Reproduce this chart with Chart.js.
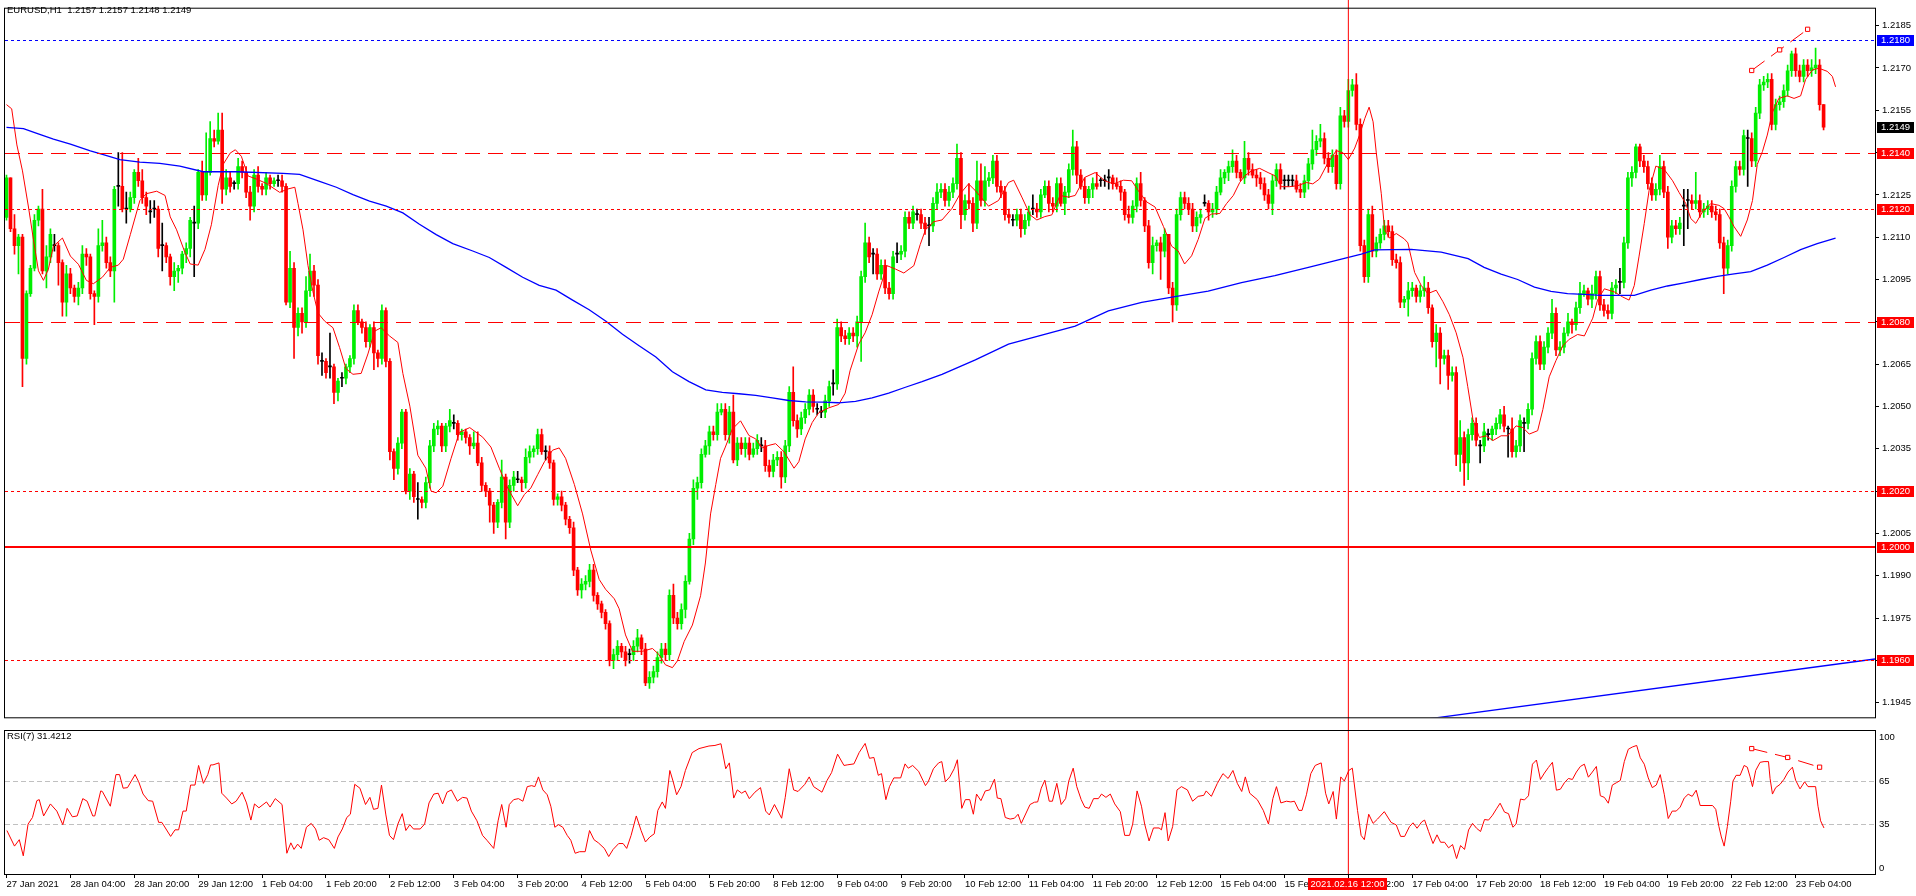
<!DOCTYPE html>
<html>
<head>
<meta charset="utf-8">
<script src="https://cdn.jsdelivr.net/npm/chart.js@4.4.0/dist/chart.umd.min.js"></script>
<style>
  html, body { margin: 0; padding: 0; background: #fff; overflow: hidden; }
  #main { position: absolute; left: 0; top: 0; }
  #rsi { position: absolute; left: 0; top: 726px; }
</style>
</head>
<body>
<canvas id="main" width="1916" height="726"></canvas>
<canvas id="rsi" width="1916" height="170"></canvas>
<script>
// EURUSD H1, 27 Jan 12:00 .. 23 Feb 11:00 (456 bars). Prices in pips above 1.2000.
const BASE = 1.2, PIP = 0.0001;
const symbolTitle = "EURUSD,H1";
const firstOpenPips = 117;

const closePips = [
  131,113,107,110,67,90,99,116,120,98,
  103,111,107,101,87,97,92,89,92,104,
  103,90,89,107,108,101,98,127,128,120,
  120,124,133,130,124,121,119,120,106,107,
  103,96,98,99,104,106,116,115,133,125,
  133,145,144,148,127,131,128,129,135,133,
  126,121,132,128,127,131,129,130,130,128,
  87,99,78,83,80,91,98,93,68,66,
  62,64,55,59,60,64,67,84,80,78,
  73,78,69,67,84,66,34,28,37,48,
  20,26,18,17,16,23,36,42,43,36,
  43,45,44,40,41,39,36,37,30,22,
  20,15,9,16,25,9,22,25,24,23,
  32,34,35,40,34,34,30,17,18,15,
  10,7,-8,-15,-13,-12,-8,-17,-20,-23,
  -27,-40,-38,-35,-37,-40,-38,-35,-32,-36,
  -48,-46,-44,-39,-36,-38,-17,-25,-27,-22,
  -12,3,21,23,33,36,41,40,48,49,
  40,48,31,37,35,37,33,35,38,36,
  29,27,31,32,25,36,55,45,42,46,
  49,54,50,49,48,52,57,58,78,75,
  74,76,75,80,96,108,103,104,97,100,
  92,90,103,104,105,117,115,119,118,115,
  113,114,122,126,127,123,126,129,138,118,
  123,122,115,130,123,130,131,137,128,126,
  118,117,116,118,113,116,119,120,119,125,
  128,122,121,129,122,126,134,142,132,128,
  124,127,129,128,130,130,131,129,128,126,
  118,117,121,129,123,114,101,107,108,105,
  111,92,86,118,124,122,120,114,117,118,
  122,119,120,126,131,133,135,137,133,131,
  138,134,132,131,129,125,122,130,134,129,
  130,130,130,127,126,130,136,141,144,145,
  138,135,139,129,153,151,162,164,150,107,
  96,118,105,108,111,114,112,102,101,87,
  88,91,92,89,91,92,85,73,76,67,
  68,61,62,33,39,30,40,44,38,36,
  41,40,42,44,47,43,42,34,36,45,
  44,49,67,73,65,71,76,83,70,71,
  76,80,79,85,90,91,88,90,96,86,
  84,83,92,93,94,108,131,133,142,137,
  135,129,125,127,135,126,110,114,113,115,
  121,123,122,123,119,120,121,119,118,108,
  99,107,128,135,134,146,145,137,154,164,
  165,166,150,157,158,162,169,175,169,167,
  171,169,170,171,157,149
];

const upWick = [
  1,0,5,1,1,1,1,2,1,7, 4,2,4,1,1,3,2,1,2,3, 2,1,1,6,8,2,2,1,12,12, 6,2,1,5,4,2,4,3,1,8,
  1,1,3,1,1,2,1,6,1,4, 14,6,3,6,6,3,2,1,3,2, 2,2,2,3,1,2,1,1,2,2, 1,6,2,2,2,5,6,2,2,3,
  1,12,1,1,2,1,1,2,2,1, 2,1,2,1,2,1,1,1,2,1, 1,2,1,6,1,2,2,2,2,1, 1,4,3,1,1,1,1,4,4,2,
  1,1,1,1,6,1,2,2,3,1, 3,2,1,2,2,2,2,1,1,2, 1,1,2,1,2,2,2,2,1,1, 1,1,2,2,1,2,2,2,3,1,
  2,2,2,2,2,2,2,4,2,2, 2,2,3,2,2,2,2,2,3,2, 2,2,6,2,2,2,2,2,2,3, 2,2,2,2,2,2,2,9,2,2,
  2,2,2,2,2,2,2,5,3,2, 2,2,2,2,2,7,2,2,2,2, 2,2,2,4,2,2,2,2,2,2, 2,3,2,3,2,2,2,2,5,2,
  2,6,2,7,6,5,2,2,2,2, 2,2,2,2,2,2,2,5,2,2, 2,2,2,2,2,2,2,6,2,2, 3,1,2,4,1,2,3,1,2,2,
  1,3,2,2,4,1,2,3,1,2, 2,0,2,2,2,2,2,2,2,2, 3,1,2,2,3,1,2,4,2,1, 6,2,2,2,2,2,2,2,2,2,
  2,2,2,2,2,2,2,7,2,5, 2,2,2,2,3,2,4,2,4,2, 2,2,3,2,2,2,2,2,2,2, 1,3,2,1,2,4,2,1,3,2,
  2,2,2,2,6,2,2,2,2,2, 3,2,1,2,2,3,1,4,2,2, 2,2,2,2,2,2,2,5,2,2, 2,3,1,2,4,2,1,3,2,2,
  2,2,2,2,5,2,2,2,1,1, 2,2,2,2,4,2,2,2,2,2, 6,4,2,10,2,2,2,2,2,2, 2,2,2,2,2,2,3,2,2,2,
  2,2,2,2,2,2,2,1,2,2, 2,2,3,6,2,0
];

const dnWick = [
  1,1,3,10,10,2,1,1,2,1, 6,2,2,8,5,5,2,2,3,2, 3,2,10,2,2,2,2,11,7,1, 5,1,2,2,2,3,4,3,3,9,
  2,3,5,4,2,3,3,19,2,2, 2,1,2,1,5,2,2,2,2,2, 2,5,2,2,2,2,2,1,2,2, 1,2,11,3,4,2,2,4,3,5,
  2,4,4,3,3,2,2,2,1,2, 2,2,6,3,2,2,3,4,2,2, 1,3,2,7,2,2,2,2,2,2, 2,2,2,2,2,2,3,1,1,2,
  2,6,4,2,2,6,2,2,1,3, 2,2,2,2,1,3,2,2,2,2, 2,2,2,2,3,2,2,2,2,2, 2,2,3,2,2,2,3,2,2,2,
  1,2,2,2,2,2,2,2,2,2, 3,1,2,4,2,1,3,2,2,1, 2,3,1,2,2,3,2,1,2,2, 2,2,2,2,4,2,2,2,3,2,
  2,2,2,2,2,2,2,4,2,2, 2,2,2,4,14,2,2,7,2,2, 2,2,2,3,2,2,2,2,2,2, 2,7,2,2,2,2,2,2,2,5,
  2,2,3,2,2,2,2,2,2,2, 2,2,2,2,3,2,2,2,2,2, 1,3,2,2,1,4,2,2,3,1, 2,2,3,1,2,2,4,2,1,3,
  2,2,2,2,2,2,2,4,2,10, 2,2,6,2,2,2,2,2,2,2, 1,3,2,2,1,2,3,2,2,1, 2,2,1,3,2,2,2,4,2,2,
  3,2,2,1,2,2,3,2,2,2, 2,2,2,2,2,2,2,2,2,2, 2,2,2,2,2,2,2,2,2,2, 2,6,2,2,2,2,2,2,9,9,
  2,5,2,4,6,8,6,2,2,6, 2,2,2,2,2,2,10,2,2,2, 10,2,2,2,2,2,2,2,2,2, 2,1,3,2,2,1,2,3,2,2,
  2,2,2,2,4,2,2,3,2,2, 2,2,2,2,2,2,4,2,2,2, 14,10,2,2,2,2,2,2,2,2, 9,2,2,2,2,2,17,2,2,2,
  2,2,2,2,2,2,2,2,2,2, 2,2,2,2,2,1
];

const dojiBars = [12,28,36,37,39,47,57,68,79,81,84,103,112,128,135,156,189,203,204,207,
  217,223,228,231,252,257,274,275,276,300,320,321,322,369,371,376,380,404,420,421,436];

// moving averages as [bar, pips]
const fastMA = [
  [0,157],[1.3,155.5],[2.6,142.7],[4,133.5],[5.5,120.7],[6.75,109.1],[8,98.1],[9.25,94.7],[10.5,98.7],[11.75,106.8],
  [14,109.7],[16,103.3],[18,100.4],[20,94.7],[21.75,93.5],[24,95.8],[26,99.3],[28,100.1],[29.25,102.2],[31,110.9],
  [33.4,123],[35,125.4],[37.6,126.3],[39.7,124.8],[41,117.2],[42.6,112.6],[44.7,104.5],[46,100.5],[48,100.1],[49.7,105.7],
  [51.3,114.4],[53,128.3],[54.25,135.8],[56,139.8],[57.3,141],[58.8,138.7],[60.5,131.7],[62.6,130.6],[65,129.1],[68.4,125.9],
  [70.5,127.1],[72.2,127.7],[73,121.9],[74.25,112.6],[75.5,99.9],[76.75,90.6],[78,83.1],[79.7,80.2],[81.75,77.9],[83.4,70.9],
  [85,63.4],[86.75,61.4],[88.8,61.7],[90.5,68.6],[92.2,76.7],[93.8,77.9],[95.9,75],[98,72.7],[99.25,61.7],[101,50.1],
  [103,32.7],[105,28.1],[106.3,20],[107.6,19.4],[109.25,21.7],[111.3,31.5],[113.4,40.8],[116,42.5],[119.25,39.1],[121.3,35.6],
  [123.4,28.1],[125.5,21.1],[128,14.8],[129.7,18.8],[131.3,21.1],[133,25.8],[134.7,30.4],[136.75,34.5],[138.4,35.3],[140,31.6],
  [142.2,22.3],[144.25,11.9],[146.3,-0.9],[148.4,-11.3],[150,-14.8],[152.2,-18.2],[153.4,-21.7],[155,-31],[156.75,-36.8],[159.25,-36.8],
  [161.75,-35.8],[163.4,-38],[165,-41.6],[166.75,-42.6],[168,-40.2],[169.7,-33.3],[171.75,-27.5],[173.8,-17.1],[175,-5.5],[176.3,11.9],
  [177.6,22.3],[178.8,31.6],[180,35.6],[181.75,42],[183.8,44.9],[185.9,39.7],[187.6,38.5],[189.25,35.3],[190.9,36.2],[192.6,36.8],
  [194.7,33.9],[197.2,28.1],[198.4,30.4],[200,38.5],[201.75,44.3],[203.4,47.8],[205.9,49.5],[208.4,50.7],[210,54.7],[211.25,62.8],
  [213.4,72.1],[215,76.1],[216.75,82.5],[218.4,90.6],[220.5,99.9],[222.6,98.7],[224.7,97.3],[227.2,99.9],[228.8,107.4],[230.1,112.6],
  [232.2,115.5],[234.25,116.1],[236.75,120.2],[238.8,125.4],[240.9,128.9],[242.6,126.5],[245.9,121],[248.4,123],[250.9,129.4],[252.2,130.2],
  [254.25,124.2],[256.3,117.9],[258,116.1],[260,117.3],[261.75,117.9],[263.8,124.8],[265.9,124.2],[267.6,124.8],[270,131.2],[272.6,132.9],
  [275,130],[277.2,128.9],[279.7,130.2],[281.75,130],[283.4,126.5],[285.5,122.5],[287.6,120.7],[289.7,113.8],[291.75,106.8],[293.4,105.1],
  [295,100.5],[296.75,103.4],[298.4,109.2],[300.1,116.7],[301.75,118.2],[303.8,118.4],[305.5,121.9],[307.2,124.8],[308.8,129.4],[310.1,131.8],
  [311.75,133.5],[313.8,134.4],[315.9,132.9],[317.6,131.8],[319.25,127.9],[321.3,127.9],[323.4,128.3],[325.5,129.4],[327.1,128.9],[328.75,130.6],
  [330.9,136.4],[333,140.7],[334.7,139.9],[336,137.5],[337.6,141.6],[338.8,146.2],[340.1,152],[341.2,156.1],[342.2,150.9],[343,139.9],
  [344.25,125.4],[345.1,112.6],[346.3,109.7],[348,111.3],[350,109.4],[350.9,108],[352.6,97.5],[354.25,92.9],[355.9,90],[358,91.2],
  [359.7,87.1],[361.3,82.5],[363,76.1],[364.7,67.4],[365.9,57],[367.2,45.4],[368.8,39],[370.5,39.6],[372.2,37.9],[374.25,39.6],
  [375.9,39.6],[378,43.1],[379.7,42.5],[381.3,40.2],[383.4,41.4],[384.7,48.9],[386.3,60.5],[388,66.3],[389.7,71.5],[391.3,73.8],
  [393.4,75.5],[395.1,75],[397.2,81.3],[398.4,87.7],[400.1,91.7],[402.6,90.6],[404.7,88.8],[406.3,87.7],[407.6,92.9],[408.8,103.3],
  [410.1,114.9],[411.3,126.5],[413,135.2],[415.1,134],[417.2,130],[418.8,125.9],[420.5,121.9],[421.75,116.6],[423,114.9],[424.7,119],
  [426.75,121.9],[428.8,121.3],[430.1,120.1],[431.3,117.2],[432.6,113.7],[434.25,110.3],[435.9,116.1],[437.2,123],[438.4,135.8],[439.7,140.4],
  [440.9,146.2],[442.2,154.3],[443.8,159.2],[445.9,160.1],[447.6,159.2],[449.25,160.1],[450.5,165.9],[452.2,169.3],[453.8,169.9],[455.9,168.8],
  [457.2,167],[458,163.3]
];

const slowMA = [
  [0,148.9],[4.25,148.5],[7.6,146.8],[11.75,144.8],[16,143],[21,140.6],[24.25,139.3],[28.4,137.5],[33.4,136.6],[38.4,136.2],
  [43.4,135.2],[49.25,133.2],[57.6,133.2],[69.25,132.6],[73.4,132.3],[78.4,129.8],[82.6,127.7],[86.75,125.1],[90.9,122.8],[95.1,121],
  [99.25,118.6],[103.4,114.6],[107.6,110.9],[111.75,107.7],[116.75,105.1],[120.9,102.8],[125.1,99.3],[129.25,95.8],[133.4,92.9],[137.6,91.2],
  [141.75,87.7],[145.9,84.3],[150.1,80.2],[154.25,75.6],[158.4,71.5],[162.6,67.5],[166.75,62.3],[170.9,58.8],[175.1,55.9],[179.25,55],
  [183.4,54.5],[187.6,53.9],[191.75,53],[195.9,52.1],[200.1,51.6],[204.25,51.5],[208.4,51.3],[212.6,51.8],[216.75,53],[220.9,54.7],
  [225.1,56.8],[229.25,58.8],[234.25,61.4],[242.6,66.5],[250.9,72.1],[259.25,75.3],[267.6,78.5],[275.9,83.9],[284.25,86.9],[292.6,88.9],
  [300.9,90.9],[309.25,93.9],[317.6,96.4],[326,99.3],[334.25,102.2],[339.25,104],[342.6,105.5],[351.75,105.7],[359.25,104.7],[366,102.4],
  [370,99.3],[374.25,96.9],[378.4,95],[382.6,92.3],[386.75,90.8],[390.9,90],[395.1,89.7],[399.25,89.4],[407.6,89.4],[411.75,91.2],
  [415.9,92.7],[420.1,93.8],[424.25,95],[428.4,96.1],[432.6,97],[436.75,97.8],[440.9,100.1],[445.1,102.8],[449.25,105.6],[453.4,107.7],
  [458,109.7]
];

// RSI(7) as [bar, value]
const rsiName = "RSI(7)";
const rsiLast = "31.4212";
const rsiPoints = [
  [0.1,30.4],[2,19.5],[3.2,24],[4.2,12.7],[5.4,34.9],[6.5,39.5],[7.6,51.3],[8.2,52],[9.3,40.6],[11,49],
  [12.6,44],[14.1,34.5],[15.2,45.9],[16.5,40],[17.7,40.6],[19.1,52.7],[20.2,50.9],[21.6,40.6],[22.1,40.6],[23.6,58.1],
  [24,57.7],[26,47.4],[27.4,69.5],[28.3,69.5],[29.2,60],[30.3,60.4],[32.2,69.5],[33.1,64.5],[34.2,55.9],[35.5,51.3],
  [36.6,50.9],[38.1,36.1],[38.9,36.1],[41.1,26.3],[42.2,30.9],[43.1,30.9],[44.2,44],[45,44],[46.1,62.2],[47.2,62.2],
  [48.1,75.9],[49.3,63.4],[50.4,69.5],[51.1,76.3],[51.7,76.3],[53.2,77.7],[53.9,56.5],[55.1,53.1],[56.4,49],[57.5,50.9],
  [59,57.2],[60.1,49.7],[61.2,37.7],[62.1,49],[63.2,46.3],[65.1,50.4],[66,46.8],[67.3,52.7],[69,48.6],[70.2,14.5],
  [71.2,21.8],[72,17.2],[72.9,20.9],[73.8,17.9],[75.1,32.7],[76.3,35.4],[77.4,31.5],[78.3,23.6],[79.4,25.4],[80.7,24],
  [82.1,17.9],[83,25.9],[84.1,31.5],[85.2,39.5],[86.1,41.8],[87.2,62.7],[88.5,60],[89.9,48.6],[91,53.6],[91.9,45.2],
  [93,45.9],[93.9,62.2],[95,41.3],[95.9,27],[96.9,24],[98,34.9],[99.1,42.2],[100,30.4],[101,34.5],[101.9,31.5],
  [103.6,31.5],[104.7,34.9],[105.8,49.7],[107,55.9],[108.1,56.5],[109.2,49],[110.3,57.2],[111.4,58.8],[112.9,50.9],[114.2,53.6],
  [115.3,53.1],[116.4,44],[117.8,37.2],[119.2,27],[120.3,23.6],[122,17.9],[123.1,37.2],[124,48.6],[125.1,32.7],[125.9,48.6],
  [127,52],[128.2,52.7],[129.3,50.9],[130.4,61.1],[131.5,61.8],[132.3,61.1],[133.2,67.9],[134.3,58.8],[135.4,55.4],[136.3,47.4],
  [137.3,32.7],[138.2,34.5],[139.3,32.7],[140.4,27],[141.3,23.6],[142.4,14.5],[143.5,15.6],[144.9,15.6],[146,30.4],[147.1,24],
  [148.2,21.8],[149.7,17.9],[150.8,12.2],[151.9,17.2],[153.3,21.3],[154.4,21.3],[155.3,17.9],[156.4,27],[157.7,40.6],[158.9,30.4],
  [160,22.4],[161.1,25.9],[162.2,28.1],[163.1,44.5],[164.2,50.4],[165,45.9],[166.1,72.4],[166.9,65],[167.8,55.4],[168.9,61.1],
  [170,72.4],[171.7,84.9],[173.4,87.7],[175.9,89.5],[177.4,89.9],[178.9,91.1],[180.1,73.6],[181,77.7],[182.1,53.1],[183,58.8],
  [184.1,56.5],[185,58.1],[186,52.7],[187.4,57.2],[188.8,60.4],[190.1,44],[191,41.3],[192.3,48.6],[194.1,39],[195,53.6],
  [196,73.6],[197.1,58.8],[198.2,57.7],[199.9,62.7],[201,67.9],[202.1,61.1],[204.2,57.2],[205.5,65.6],[206.6,70.9],[208.1,83.8],
  [209.7,75.9],[210.5,76.3],[212.2,77],[213.5,84.9],[215,91.3],[216.1,80.9],[217.2,81.5],[218.3,69],[219.1,70.2],[220.2,52],
  [221.1,61.1],[222.2,67.2],[223.9,67.2],[225,77],[225.8,74],[226.9,75.9],[228.4,71.8],[230.1,61.8],[230.8,64.5],[232.1,73.6],
  [233.4,77.7],[234.2,78.6],[235.1,64.5],[236.2,67.9],[237.3,73.6],[238.1,79.9],[239.2,45.9],[240.1,52],[241.2,52],[242.1,41.8],
  [242.9,55.9],[244,51.3],[245.1,58.1],[246.2,58.8],[247.4,66.3],[248.1,53.1],[249,52.7],[250.1,39.5],[251.3,38.4],[252.4,39],
  [253.3,41.8],[254.1,35.4],[256.3,48.6],[257.4,50.2],[258.2,50.4],[259.1,60],[260,65.6],[261.1,50.9],[261.9,50.9],[263,63.4],
  [264.1,48.6],[265.2,52.7],[266,65],[267.1,74],[268,61.1],[269.1,52],[270,46.8],[271.1,45.9],[272.2,52.7],[273.4,52.7],
  [274.2,55.9],[275.3,53.6],[276.4,55.9],[277.5,49],[278.9,43.6],[280,27],[281.2,27],[282,34.9],[283.1,58.1],[284.2,47.4],
  [285,34.9],[286.1,23.1],[287.2,32.2],[288.6,32.2],[289.2,30.9],[290.1,42.9],[290.9,23.1],[292,33.1],[293.1,58.8],[294.2,61.1],
  [295.7,58.8],[297,50.9],[298.4,54.3],[299.8,55],[300.4,58.1],[301.7,54.3],[303.2,63.4],[304.6,70.2],[305.9,66.8],[307.1,72.4],
  [308.2,63.4],[309.3,57.7],[310.2,67.9],[311.3,56.5],[313.2,52],[314.7,44.5],[316,34.9],[317.1,52.7],[318,61.1],[319.1,49.7],
  [320.5,50.9],[321.6,50.4],[322.5,50.9],[323.6,44.5],[324.4,44.5],[325.5,55.4],[326.6,70.2],[327.7,75.9],[329.2,77.7],[330.3,56.5],
  [331.1,49],[332.2,57.7],[333,38.4],[334.1,67.9],[335,65],[336.1,72.4],[337,74],[338.3,44.5],[339.2,27],[340,24],
  [341.1,41.8],[342.2,35.4],[343.3,38.4],[345,43.6],[346.7,36.1],[348,34.3],[349.1,26.3],[350.1,26.3],[351.3,33.1],[352.2,35.8],
  [353.2,32],[354.4,36.5],[355.1,37.7],[356.1,29.7],[357.2,21.3],[358.2,27.4],[359.1,22.2],[360.1,22.2],[361.1,18.3],[362.1,20.6],
  [363.1,10.8],[364.1,19.9],[365.1,17.2],[366.1,30.8],[367.1,35.4],[368.1,32],[369.1,29.7],[370.1,38.1],[371.1,37.7],[372.1,41.1],
  [373.1,45.6],[374,49.5],[375.1,43.3],[376.1,42.2],[377.2,32.7],[378,34.9],[379.1,52.4],[380.1,51.8],[381.1,54.7],[382.1,76.8],
  [383.1,79.7],[384.1,66.1],[385.1,70.6],[386.1,74.5],[387.1,78.1],[388.1,58.6],[389.1,59.3],[390.1,63.8],[391.1,66.8],[392.1,66.1],
  [393.1,71.3],[394.1,75.2],[395.1,76.8],[396.1,67.7],[397.1,71.3],[398.1,75.2],[399.1,54.7],[400.1,53.6],[401.1,49.5],[402.1,62.2],
  [403.1,63.8],[404.1,65.4],[405.1,78.6],[406.1,87.2],[407.1,88.8],[408.2,89.9],[409.1,81.3],[410.1,76.8],[411.1,67.2],[412.1,60.4],
  [413.1,62.2],[414.1,69.5],[415.1,55.8],[416.1,38.8],[417.1,44],[418.1,44],[419.1,46.8],[420.1,53.1],[421.1,55.8],[422.1,54.3],
  [423.1,58.6],[424.1,47.9],[427.2,47.9],[428,45.2],[428.8,33.1],[429.4,25.9],[430.1,19.5],[430.9,33.1],[431.75,50.9],[432.3,64.9],
  [433.1,69],[434.1,69],[435.1,75.9],[435.9,74.7],[436.6,67.9],[437.2,61.1],[438,72.4],[439.1,78.1],[440.1,78.6],[441.2,78.6],
  [441.6,66.8],[442.2,55.9],[443,60.4],[444.1,62.7],[445.1,66.3],[446.1,71.3],[447.2,74.7],[448,65.6],[449.1,59.5],[450.25,64.5],
  [451.1,61.1],[453,61.1],[453.6,47.4],[454.25,37.2],[455.1,32.2]
];

// drawn objects
const levelPrices = [1.2180, 1.2140, 1.2120, 1.2080, 1.2020, 1.2000, 1.1960];
const trendPoints = [[340, -63.8], [468, -39.5]];
const priceDivergence = [[437, 169.1], [444, 176.4], [451, 183.7]];
const rsiDivergence = [[437, 87.7], [446, 81.5], [454, 74.7]];
const markerBar = 336;
const markerLabel = "2021.02.16 12:00";

// axes
const priceTicks = [1.1945,1.1960,1.1975,1.1990,1.2005,1.2020,1.2035,1.2050,1.2065,1.2080,1.2095,1.2110,1.2125,1.2140,1.2155,1.2170,1.2185];
const rsiTicks = [100, 65, 35, 0];
const rsiGuides = [65, 35];
const timeTickBars = [0,16,32,48,64,80,96,112,128,144,160,176,192,208,224,240,256,272,288,304,320,336,352,368,384,400,416,432,448];
const timeLabels = ["27 Jan 2021","28 Jan 04:00","28 Jan 20:00","29 Jan 12:00","1 Feb 04:00","1 Feb 20:00","2 Feb 12:00",
  "3 Feb 04:00","3 Feb 20:00","4 Feb 12:00","5 Feb 04:00","5 Feb 20:00","8 Feb 12:00","9 Feb 04:00","9 Feb 20:00",
  "10 Feb 12:00","11 Feb 04:00","11 Feb 20:00","12 Feb 12:00","15 Feb 04:00","15 Feb 20:00","16 Feb 12:00",
  "17 Feb 04:00","17 Feb 20:00","18 Feb 12:00","19 Feb 04:00","19 Feb 20:00","22 Feb 12:00","23 Feb 04:00"];

// ---------- styles ----------
const FONT = '"Liberation Sans", Arial, sans-serif';
const FSIZE = 9.5;
const BULL = '#00ee00', BEAR = '#ff0000', DOJI = '#000000';
const levelStyles = [
  { color: '#0000ff', dash: [3, 3], width: 1 },
  { color: '#ff0000', dash: [15, 8], width: 1 },
  { color: '#ff0000', dash: [3, 3], width: 1 },
  { color: '#ff0000', dash: [15, 8], width: 1 },
  { color: '#ff0000', dash: [3, 3], width: 1 },
  { color: '#ff0000', dash: [], width: 2 },
  { color: '#ff0000', dash: [3, 3], width: 1 }
];
const X_MIN = -0.375, X_MAX = 467.875;
const AXIS_W = 41;

Chart.defaults.font.family = FONT;
Chart.defaults.font.size = FSIZE;
Chart.defaults.color = '#000';

const px = p => BASE + p * PIP;
const opens = closePips.map((c, i) => dojiBars.includes(i) ? c : (i === 0 ? firstOpenPips : closePips[i - 1]));
const colors = closePips.map((c, i) => c > opens[i] ? BULL : (c < opens[i] ? BEAR : DOJI));
const wickData = closePips.map((c, i) => ({ x: i, y: [px(Math.min(opens[i], c) - dnWick[i]), px(Math.max(opens[i], c) + upWick[i])] }));
const bodyData = closePips.map((c, i) => ({ x: i, y: [px(opens[i]), px(c)] }));
const toXY = (arr, f) => arr.map(([b, v]) => ({ x: b, y: f(v) }));

const last = closePips.length - 1;
const lastO = opens[last], lastC = closePips[last];
const lastH = Math.max(lastO, lastC) + upWick[last], lastL = Math.min(lastO, lastC) - dnWick[last];
const fmt = v => v.toFixed(4);
const titleText = `${symbolTitle}  ${fmt(px(lastO))} ${fmt(px(lastH))} ${fmt(px(lastL))} ${fmt(px(lastC))}`;

function frame(ctx, a) {
  ctx.save();
  ctx.strokeStyle = '#000';
  ctx.lineWidth = 1;
  ctx.setLineDash([]);
  ctx.strokeRect(a.left - 0.5, a.top - 0.5, a.right - a.left + 1, a.bottom - a.top + 1);
  ctx.restore();
}

function tag(ctx, y, text, bg) {
  ctx.fillStyle = bg;
  ctx.fillRect(1877, Math.round(y) - 5, 37, 11);
  ctx.fillStyle = '#fff';
  ctx.textAlign = 'left';
  ctx.textBaseline = 'middle';
  ctx.fillText(text, 1881, Math.round(y) + 0.5);
}

const mainDecor = {
  id: 'mainDecor',
  afterDatasetsDraw(chart) {
    const { ctx, chartArea: a, scales: { x, y } } = chart;
    ctx.save();
    ctx.beginPath();
    ctx.rect(a.left, a.top, a.right - a.left, a.bottom - a.top);
    ctx.clip();
    levelPrices.forEach((p, k) => {
      const st = levelStyles[k];
      const yy = Math.round(y.getPixelForValue(p)) + (st.width % 2 ? 0.5 : 0);
      ctx.strokeStyle = st.color;
      ctx.lineWidth = st.width;
      ctx.setLineDash(st.dash);
      ctx.beginPath();
      ctx.moveTo(a.left, yy);
      ctx.lineTo(a.right, yy);
      ctx.stroke();
    });
    ctx.restore();
    const vx = x.getPixelForValue(markerBar);
    ctx.save();
    ctx.strokeStyle = '#ff0000';
    ctx.lineWidth = 1;
    ctx.beginPath();
    ctx.moveTo(vx, 0);
    ctx.lineTo(vx, chart.height);
    ctx.stroke();
    ctx.restore();
  },
  afterDraw(chart) {
    const { ctx, chartArea: a, scales: { y } } = chart;
    frame(ctx, a);
    ctx.save();
    ctx.font = `${FSIZE}px ${FONT}`;
    ctx.fillStyle = '#000';
    ctx.textBaseline = 'middle';
    ctx.fillText(titleText, 7, 10.5);
    levelPrices.forEach((p, k) => tag(ctx, y.getPixelForValue(p), fmt(p), levelStyles[k].color));
    tag(ctx, y.getPixelForValue(px(lastC)), fmt(px(lastC)), '#000');
    ctx.restore();
  }
};

const rsiDecor = {
  id: 'rsiDecor',
  beforeDatasetsDraw(chart) {
    const { ctx, chartArea: a, scales: { y } } = chart;
    ctx.save();
    ctx.strokeStyle = '#c0c0c0';
    ctx.lineWidth = 1;
    ctx.setLineDash([5, 3]);
    rsiGuides.forEach(v => {
      const yy = Math.round(y.getPixelForValue(v)) + 0.5;
      ctx.beginPath();
      ctx.moveTo(a.left, yy);
      ctx.lineTo(a.right, yy);
      ctx.stroke();
    });
    ctx.restore();
  },
  afterDatasetsDraw(chart) {
    const { ctx, chartArea: a, scales: { x } } = chart;
    const vx = x.getPixelForValue(markerBar);
    ctx.save();
    ctx.strokeStyle = '#ff0000';
    ctx.lineWidth = 1;
    ctx.beginPath();
    ctx.moveTo(vx, 0);
    ctx.lineTo(vx, a.bottom);
    ctx.stroke();
    ctx.restore();
  },
  afterDraw(chart) {
    const { ctx, chartArea: a, scales: { x, y } } = chart;
    frame(ctx, a);
    ctx.save();
    ctx.font = `${FSIZE}px ${FONT}`;
    ctx.fillStyle = '#000';
    ctx.textBaseline = 'middle';
    ctx.textAlign = 'left';
    ctx.fillText(`${rsiName} ${rsiLast}`, 7, 10.5);
    rsiTicks.forEach(v => {
      let yy = y.getPixelForValue(v);
      if (v === 100) yy += 6;
      if (v === 0) yy -= 6;
      ctx.fillText(String(v), 1879, yy);
    });
    const vx = x.getPixelForValue(markerBar);
    ctx.fillStyle = '#ff0000';
    ctx.fillRect(Math.round(vx) - 40, a.bottom + 4, 79, 12);
    ctx.fillStyle = '#fff';
    ctx.textAlign = 'center';
    ctx.fillText(markerLabel, Math.round(vx) - 0.5, a.bottom + 10.5);
    ctx.restore();
  }
};

const lineSet = (data, color, width, extra) => Object.assign({
  type: 'line', data, borderColor: color, borderWidth: width, pointRadius: 0,
  tension: 0, fill: false, order: 0
}, extra || {});

new Chart(document.getElementById('main'), {
  type: 'bar',
  data: {
    datasets: [
      { data: wickData, backgroundColor: colors, barThickness: 1, grouped: false, order: 3 },
      { data: bodyData, backgroundColor: colors, barThickness: 3, grouped: false, minBarLength: 1, order: 2 },
      lineSet(toXY(slowMA, px), '#0000ff', 1.3),
      lineSet(toXY(fastMA, px), '#ff0000', 1),
      lineSet(toXY(trendPoints, px), '#0000ff', 1.3),
      lineSet(toXY(priceDivergence, px), '#ff0000', 1, {
        borderDash: [16, 8], pointRadius: 3, pointStyle: 'rect',
        pointBackgroundColor: '#fff', pointBorderColor: '#ff0000', pointBorderWidth: 1
      })
    ]
  },
  options: {
    responsive: false,
    animation: false,
    devicePixelRatio: 1,
    events: [],
    layout: { padding: { left: 2, top: 1, right: 0, bottom: 2 } },
    plugins: { legend: { display: false }, tooltip: { enabled: false } },
    scales: {
      x: { type: 'linear', min: X_MIN, max: X_MAX, offset: false, display: false, grid: { offset: false } },
      y: {
        type: 'linear', position: 'right', min: 1.19398, max: 1.21910,
        afterBuildTicks: s => { s.ticks = priceTicks.map(v => ({ value: v })); },
        afterFit: s => { s.width = AXIS_W; },
        ticks: { callback: v => Number(v).toFixed(4), padding: 3, color: '#000' },
        grid: { drawOnChartArea: false, drawTicks: true, tickLength: 4, color: '#000' },
        border: { display: true, color: '#000' }
      }
    }
  },
  plugins: [mainDecor]
});

new Chart(document.getElementById('rsi'), {
  type: 'line',
  data: {
    datasets: [
      lineSet(toXY(rsiPoints, v => v), '#ff0000', 1),
      lineSet(toXY(rsiDivergence, v => v), '#ff0000', 1, {
        borderDash: [16, 8], pointRadius: 3, pointStyle: 'rect',
        pointBackgroundColor: '#fff', pointBorderColor: '#ff0000', pointBorderWidth: 1
      })
    ]
  },
  options: {
    responsive: false,
    animation: false,
    devicePixelRatio: 1,
    events: [],
    layout: { padding: { left: 2, top: 1, right: 0, bottom: 0 } },
    plugins: { legend: { display: false }, tooltip: { enabled: false } },
    scales: {
      x: {
        type: 'linear', min: X_MIN, max: X_MAX, offset: false,
        afterBuildTicks: s => { s.ticks = timeTickBars.map(v => ({ value: v })); },
        afterFit: s => { s.height = 22; },
        ticks: {
          callback: v => timeLabels[timeTickBars.indexOf(v)],
          align: 'start', maxRotation: 0, autoSkip: false, padding: 1, color: '#000'
        },
        grid: { drawOnChartArea: false, drawTicks: true, tickLength: 4, color: '#000' },
        border: { display: true, color: '#000' }
      },
      y: {
        type: 'linear', position: 'right', min: 0, max: 100,
        afterFit: s => { s.width = AXIS_W; },
        ticks: { display: false },
        grid: { drawOnChartArea: false, drawTicks: false },
        border: { display: true, color: '#000' }
      }
    }
  },
  plugins: [rsiDecor]
});
</script>
</body>
</html>
